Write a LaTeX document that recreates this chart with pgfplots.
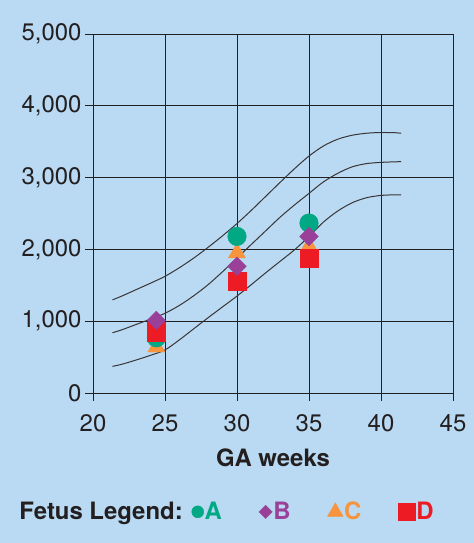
\documentclass[border=0pt]{standalone}
\usepackage{fontspec}
\setmainfont{TeX Gyre Heros}
\usepackage{pgfplots}
\pgfplotsset{compat=1.18}
\definecolor{bgc}{RGB}{185,218,242}
\definecolor{cA}{RGB}{0,168,132}
\definecolor{cB}{RGB}{155,64,152}
\definecolor{cC}{RGB}{247,148,61}
\definecolor{cD}{RGB}{237,28,36}
\definecolor{gridc}{RGB}{35,31,32}
\begin{document}
\begin{tikzpicture}
\fill[bgc] (0,0) rectangle (474bp,543bp);
\begin{axis}[
  at={(93bp,150bp)}, anchor=south west,
  scale only axis, width=360bp, height=359bp,
  xmin=20, xmax=45, ymin=0, ymax=5000,
  xtick={20,25,...,45}, ytick={0,1000,...,5000},
  grid=major, grid style={gridc, line width=0.9bp},
  axis line style={gridc, line width=0.9bp},
  tick style={gridc, line width=0.9bp},
  major tick length=8bp, tick align=outside, tick pos=left,
  ticklabel style={font=\fontsize{24}{28}\selectfont, text=gridc},
  xticklabel style={yshift=-10bp},
  /pgf/number format/assume math mode=true,
  /pgf/number format/1000 sep={,},
  xlabel={GA weeks},
  xlabel style={font=\bfseries\fontsize{24}{28}\selectfont, text=gridc, yshift=-10bp},
  legend columns=5,
  legend style={draw=none, fill=none, font=\bfseries\fontsize{24}{28}\selectfont,
    at={(-0.208,-0.331)}, anchor=west, inner sep=0pt,
    nodes={inner sep=1bp},
    /tikz/every even column/.append style={column sep=36bp},
    /tikz/row 1 column 2/.style={column sep=8bp}},
  legend image code/.code={\draw[#1] plot coordinates {(0bp,0bp)};},
]
% percentile curves
\addplot[smooth, line width=1bp, color=gridc!90, forget plot] coordinates {
(21.35,1297)(22,1350)(23,1440)(24,1530)(25,1625)(26,1745)(27,1880)(28,2030)(29,2190)(30,2360)(31,2545)(32,2740)(33,2935)(34,3125)(35,3300)(36,3440)(37,3535)(38,3590)(39,3618)(40,3628)(41,3625)(41.4,3617)};
\addplot[smooth, line width=1bp, color=gridc!90, forget plot] coordinates {
(21.35,839)(22,880)(23,955)(24,1030)(25,1110)(26,1220)(27,1355)(28,1510)(29,1690)(30,1880)(31,2070)(32,2260)(33,2450)(34,2620)(35,2780)(36,2940)(37,3060)(38,3150)(39,3195)(40,3212)(41,3220)(41.4,3222)};
\addplot[smooth, line width=1bp, color=gridc!90, forget plot] coordinates {
(21.35,371)(22,400)(23,460)(24,525)(25,600)(26,740)(27,895)(28,1050)(29,1200)(30,1350)(31,1510)(32,1675)(33,1835)(34,1995)(35,2180)(36,2380)(37,2535)(38,2650)(39,2720)(40,2752)(41,2760)(41.4,2761)};
% fetuses
\addplot[only marks, mark=triangle*, mark size=10bp, color=cC, forget plot] coordinates {(24.4,640)(30,1950)(35,2040)};
\addplot[only marks, mark=*, mark size=9.3bp, color=cA, forget plot] coordinates {(24.4,769)(30,2181)(35,2367)};
\addplot[only marks, mark=square*, mark size=9.3bp, color=cD, forget plot] coordinates {(24.4,852)(30,1556)(35,1880)};
\addplot[only marks, mark=square*, mark size=6.6bp, mark options={rotate=45}, color=cB, forget plot] coordinates {(24.4,1010)(30,1764)(35,2181)};
% legend
\addlegendimage{empty legend}
\addlegendentry{\textcolor{gridc}{Fetus Legend:}}
\addlegendimage{only marks, mark=*, mark size=6bp, color=cA}
\addlegendentry{\textcolor{cA}{A}}
\addlegendimage{only marks, mark=square*, mark size=4.7bp, mark options={rotate=45}, color=cB}
\addlegendentry{\textcolor{cB}{B}}
\addlegendimage{only marks, mark=triangle*, mark size=9bp, color=cC}
\addlegendentry{\textcolor{cC}{C}}
\addlegendimage{only marks, mark=square*, mark size=8.5bp, color=cD}
\addlegendentry{\textcolor{cD}{D}}
\end{axis}
\end{tikzpicture}
\end{document}
